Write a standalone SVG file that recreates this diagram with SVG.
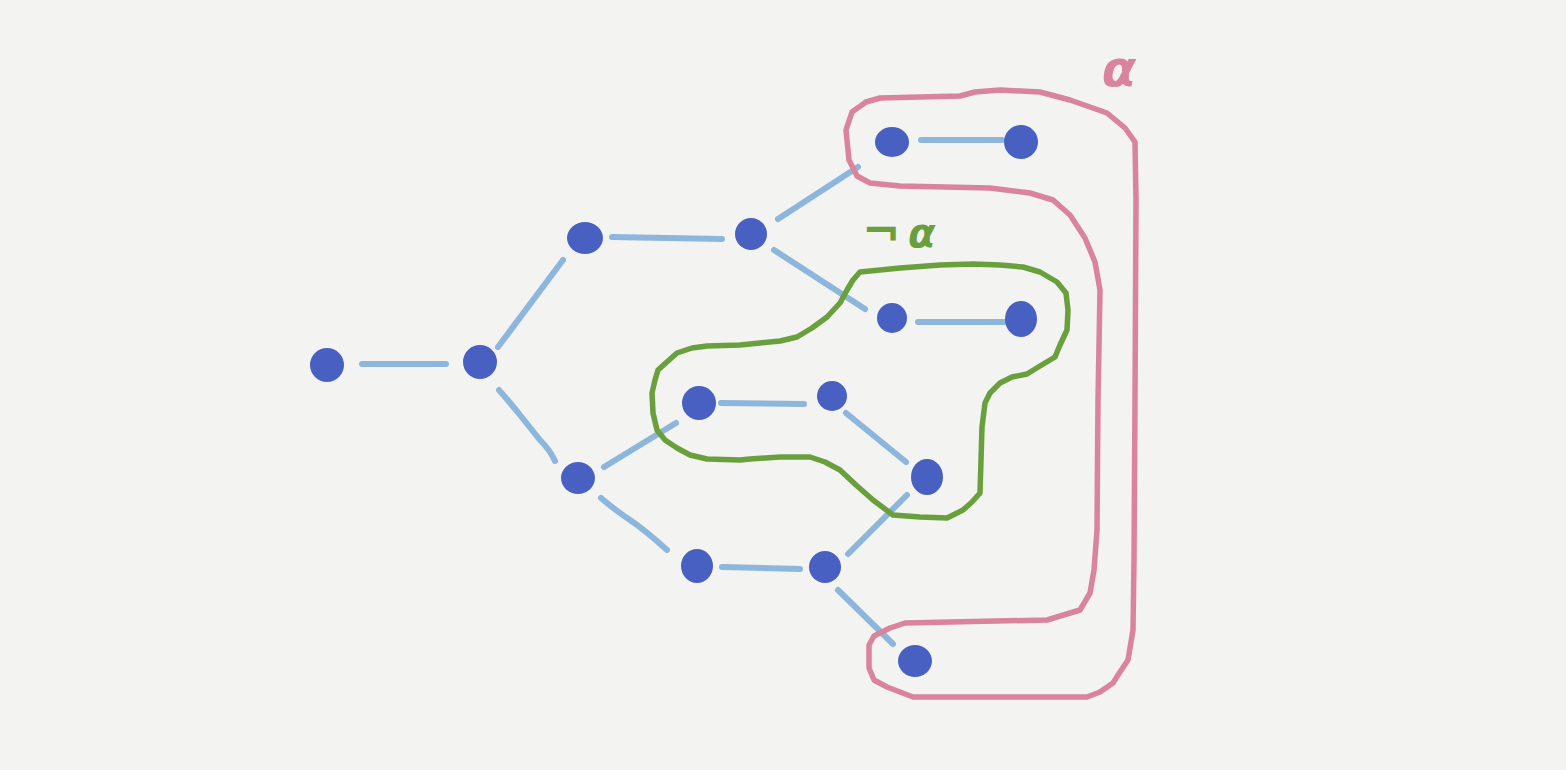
<svg xmlns="http://www.w3.org/2000/svg" width="1566" height="770" viewBox="0 0 1566 770">
<style>
.edge{stroke:#8db6dd;stroke-width:6;stroke-linecap:round;fill:none}
.node{fill:#4760c1}
.pink{stroke:#d9849c;stroke-width:5.5;fill:none;stroke-linejoin:round;stroke-linecap:round}
.green{stroke:#69a03d;stroke-width:5.5;fill:none;stroke-linejoin:round;stroke-linecap:round}
.lbl{font-family:"DejaVu Sans","Liberation Sans",sans-serif;font-weight:bold}
</style>
<rect width="1566" height="770" fill="#f3f3f2"/>
<g id="connectors">
<line class="edge" x1="362" y1="364" x2="446" y2="364"/>
<line class="edge" x1="498" y1="347" x2="563" y2="260"/>
<line class="edge" x1="612" y1="237" x2="722" y2="239"/>
<line class="edge" x1="778" y1="219" x2="858" y2="167"/>
<line class="edge" x1="774" y1="250" x2="865" y2="309"/>
<line class="edge" x1="921" y1="140" x2="1002" y2="140"/>
<line class="edge" x1="918" y1="322" x2="1008" y2="322"/>
<path class="edge" d="M499 390 Q512 405 520 415 T540 440 Q550 450 555 461"/>
<line class="edge" x1="604" y1="467" x2="676" y2="423"/>
<line class="edge" x1="721" y1="403" x2="804" y2="404"/>
<line class="edge" x1="846" y1="413" x2="906" y2="462"/>
<path class="edge" d="M601 498 Q615 510 630 520 T667 550"/>
<line class="edge" x1="722" y1="567" x2="800" y2="569"/>
<line class="edge" x1="848" y1="554" x2="907" y2="495"/>
<line class="edge" x1="838" y1="590" x2="893" y2="644"/>
</g>
<g id="nA"><circle class="node" cx="327" cy="365" r="17"/></g>
<g id="nB"><circle class="node" cx="480" cy="362" r="17"/></g>
<g id="nC"><ellipse class="node" cx="585" cy="238" rx="18" ry="16"/></g>
<g id="nD"><circle class="node" cx="751" cy="234" r="16"/></g>
<g id="nE"><ellipse class="node" cx="892" cy="142" rx="17" ry="15"/></g>
<g id="nF"><ellipse class="node" cx="1021" cy="142" rx="17" ry="17"/></g>
<g id="nG"><ellipse class="node" cx="892" cy="318" rx="15" ry="15"/></g>
<g id="nH"><ellipse class="node" cx="1021" cy="319" rx="16" ry="18"/></g>
<g id="nI"><circle class="node" cx="699" cy="403" r="17"/></g>
<g id="nJ"><circle class="node" cx="832" cy="396" r="15"/></g>
<g id="nK"><ellipse class="node" cx="578" cy="478" rx="17" ry="16"/></g>
<g id="nL"><ellipse class="node" cx="927" cy="477" rx="16" ry="18"/></g>
<g id="nM"><ellipse class="node" cx="697" cy="566" rx="16" ry="17"/></g>
<g id="nN"><circle class="node" cx="825" cy="567" r="16"/></g>
<g id="nO"><ellipse class="node" cx="915" cy="661" rx="17" ry="16"/></g>
<g id="alpha-region">
<path class="pink" d="M880 98 L920 97 L960 96 L975 92 L1000 90 L1040 92 L1070 100 L1107 113 L1125 128 L1135 142 L1136 200 L1135 400 L1134 560 L1133 630 L1128 660 L1118 675 L1113 683 L1100 692 L1087 697 L913 697 L900 692 L887 687 L874 680 L869 668 L869 645 L874 636 L890 628 L905 623 L1047 620 L1080 610 L1090 593 L1094 570 L1097 530 L1098 400 L1100 290 L1095 262 L1085 238 L1070 215 L1053 200 L1030 193 L990 188 L900 186 L870 183 L857 176 L849 160 L846 130 L852 112 L866 102 Z"/>
<text class="lbl" x="1119" y="86" font-size="50" fill="#d9849c" text-anchor="middle" font-style="italic">α</text>
</g>
<g id="not-alpha-region">
<path class="green" d="M860 272 L900 268 L940 265 L973 264 L1000 265 L1023 267 L1040 272 L1057 282 L1066 293 L1068 310 L1067 330 L1060 345 L1055 357 L1040 366 L1027 374 L1012 377 L1000 383 L990 393 L985 403 L982 427 L981 460 L980 493 L972 502 L963 510 L947 518 L920 517 L893 515 L873 500 L856 485 L840 470 L825 462 L810 457 L780 457 L750 459 L740 460 L707 459 L690 455 L677 448 L665 440 L657 430 L653 413 L652 393 L655 380 L658 370 L668 361 L677 353 L692 348 L707 346 L740 345 L760 343 L780 341 L797 337 L812 328 L827 317 L840 303 L847 290 L853 280 Z"/>
<text class="lbl" y="247" fill="#69a03d"><tspan x="862" font-size="46">¬</tspan><tspan x="908" font-size="40" font-style="italic">α</tspan></text>
</g>
</svg>
